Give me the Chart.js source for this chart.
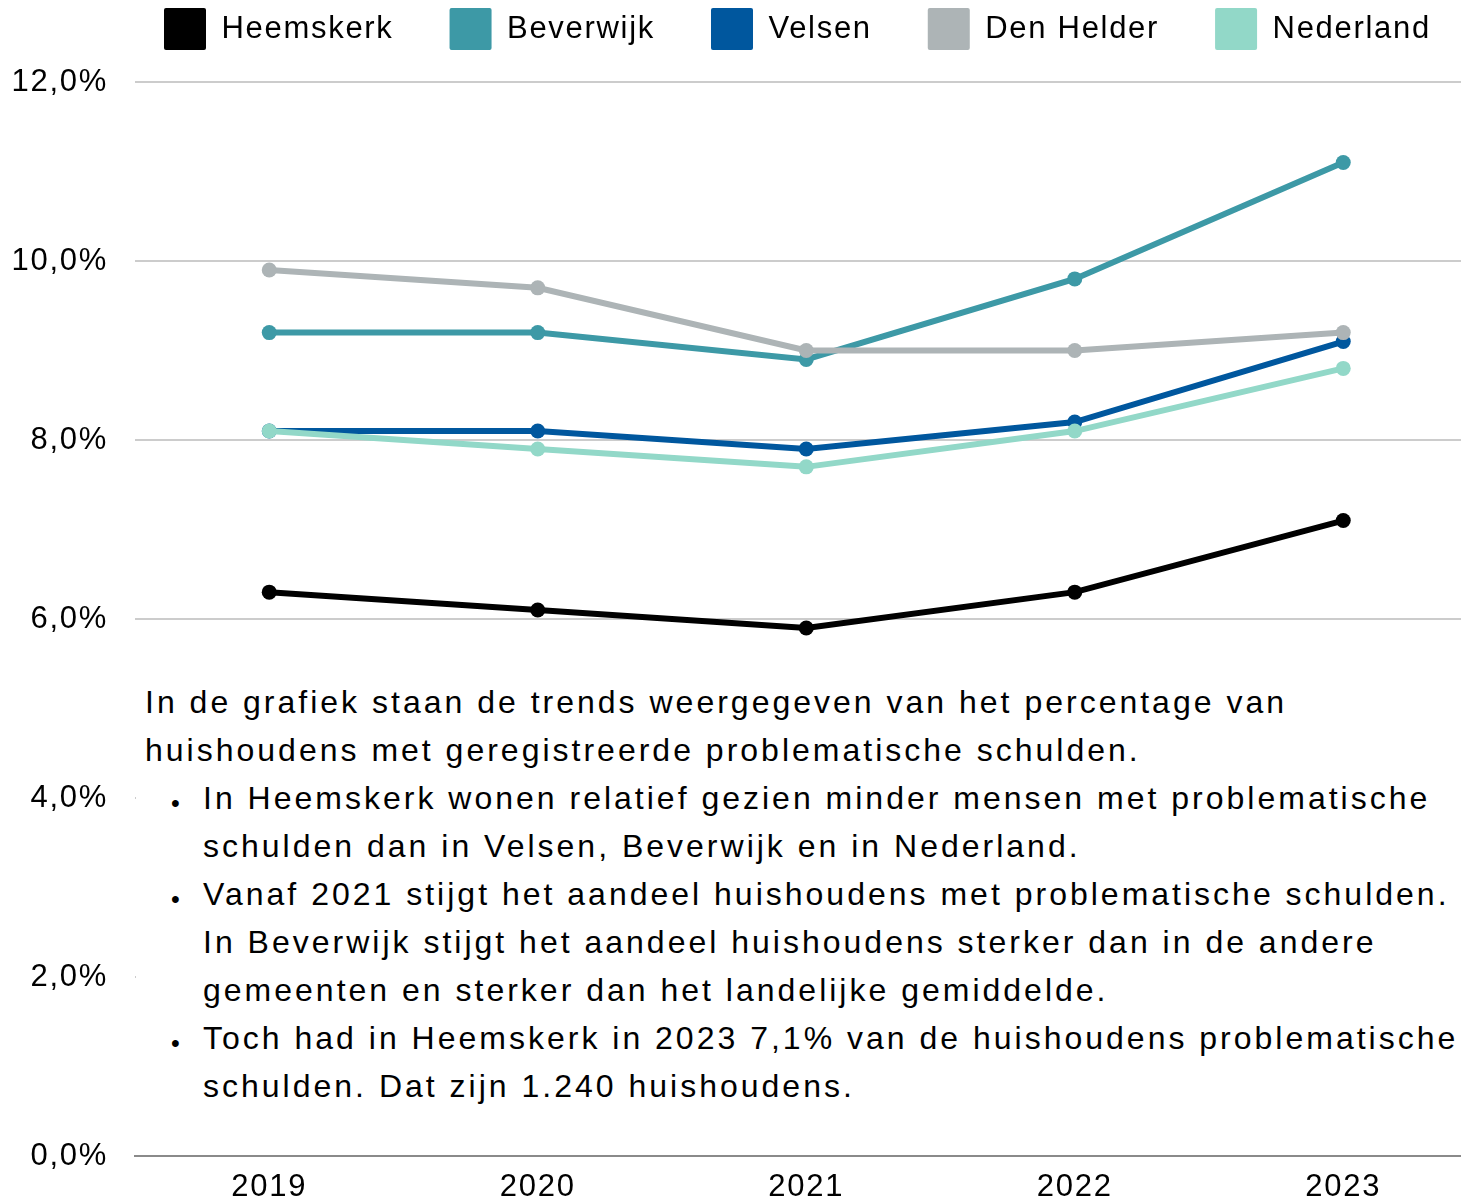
<!doctype html>
<html>
<head>
<meta charset="utf-8">
<title>Problematische schulden</title>
<script src="https://cdn.jsdelivr.net/npm/chart.js@4/dist/chart.umd.min.js"></script>
<style>
  html, body { margin: 0; padding: 0; background: #fff; overflow: hidden; }
  #wrap { position: relative; width: 1485px; height: 1226px; }
  #note {
    position: absolute; left: 136px; top: 668px; width: 1349px; height: 450px;
    background: #fff; color: #000;
    font-family: Arial, "Liberation Sans", sans-serif; font-size: 32px;
    letter-spacing: 3px; line-height: 48px; white-space: nowrap;
  }
  #note p { margin: 10px 0 0 9px; }
  #note ul { margin: 0; padding-left: 67px; list-style: none; }
  #note li { position: relative; }
  #note li::before {
    content: "\2022"; position: absolute; left: -32px; top: 5px;
    font-size: 25px; letter-spacing: 0;
  }
</style>
</head>
<body>
<div id="wrap">
  <canvas id="myChart"></canvas>
  <div id="note">
    <p>In de grafiek staan de trends weergegeven van het percentage van<br>huishoudens met geregistreerde problematische schulden.</p>
    <ul>
      <li>In Heemskerk wonen relatief gezien minder mensen met problematische<br>schulden dan in Velsen, Beverwijk en in Nederland.</li>
      <li>Vanaf 2021 stijgt het aandeel huishoudens met problematische schulden.<br>In Beverwijk stijgt het aandeel huishoudens sterker dan in de andere<br>gemeenten en sterker dan het landelijke gemiddelde.</li>
      <li>Toch had in Heemskerk in 2023 7,1% van de huishoudens problematische<br>schulden. Dat zijn 1.240 huishoudens.</li>
    </ul>
  </div>
</div>
<script>
  const years = ['2019', '2020', '2021', '2022', '2023'];
  const heemskerk = [6.3, 6.1, 5.9, 6.3, 7.1];
  const beverwijk = [9.2, 9.2, 8.9, 9.8, 11.1];
  const velsen = [8.1, 8.1, 7.9, 8.2, 9.1];
  const denHelder = [9.9, 9.7, 9.0, 9.0, 9.2];
  const nederland = [8.1, 7.9, 7.7, 8.1, 8.8];

  const font = "Arial, 'Liberation Sans', sans-serif";

  function line(label, data, color, order) {
    return {
      label: label,
      data: data,
      borderColor: color,
      backgroundColor: color,
      pointBackgroundColor: color,
      pointBorderColor: color,
      borderWidth: 6,
      pointRadius: 7.5,
      pointBorderWidth: 0,
      tension: 0,
      order: order
    };
  }

  // canvas text in the original is a bit spaced out
  const spacing = {
    id: 'spacing',
    beforeUpdate(chart) { chart.ctx.letterSpacing = '1.7px'; },
    beforeDraw(chart) { chart.ctx.letterSpacing = '1.7px'; }
  };

  // legend: fixed height so the plot starts at the right spot, and nudge where its items go
  const legendPlace = {
    id: 'legendPlace',
    beforeInit(chart) {
      const lg = chart.legend;
      const fit = lg.fit;
      const drawItems = lg._draw;
      lg.fit = function () {
        fit.call(this);
        this.height = 82;
      };
      lg._draw = function () {
        const c = this.ctx;
        c.save();
        c.translate(108, -48);
        drawItems.call(this);
        c.restore();
      };
    }
  };

  const ctx = document.getElementById('myChart').getContext('2d');
  const myChart = new Chart(ctx, {
    type: 'line',
    data: {
      labels: years,
      datasets: [
        line('Heemskerk', heemskerk, '#000000', 5),
        line('Beverwijk', beverwijk, '#3d99a6', 4),
        line('Velsen', velsen, '#00579e', 3),
        line('Den Helder', denHelder, '#adb4b6', 2),
        line('Nederland', nederland, '#92d8c8', 1)
      ]
    },
    options: {
      responsive: true,
      maintainAspectRatio: false,
      animation: false,
      layout: { padding: 0 },
      scales: {
        x: {
          offset: true,
          grid: { display: false, drawTicks: false },
          border: { display: true, color: '#8a8a8a', width: 2 },
          ticks: { color: '#000', font: { family: font, size: 31 }, padding: 13 },
          afterFit: (s) => { s.height = 70; }
        },
        y: {
          min: 0,
          max: 12,
          grid: { color: '#cccccc', lineWidth: 2, drawTicks: false },
          border: { display: false },
          ticks: {
            stepSize: 2,
            color: '#000',
            padding: 27,
            font: { family: font, size: 31 },
            callback: (value) => value.toFixed(1).replace('.', ',') + '%'
          },
          afterFit: (s) => { s.width = 135; }
        }
      },
      plugins: {
        legend: {
          align: 'start',
          labels: {
            color: '#000',
            font: { family: font, size: 31 },
            boxWidth: 42,
            boxHeight: 42,
            padding: 56,
            useBorderRadius: true,
            borderRadius: 2,
            generateLabels: (chart) =>
              Chart.defaults.plugins.legend.labels.generateLabels(chart)
                .map((l) => Object.assign(l, { lineWidth: 0 })),
            sort: (a, b) => a.datasetIndex - b.datasetIndex
          }
        },
        tooltip: { enabled: false }
      }
    },
    plugins: [spacing, legendPlace]
  });
</script>
</body>
</html>
